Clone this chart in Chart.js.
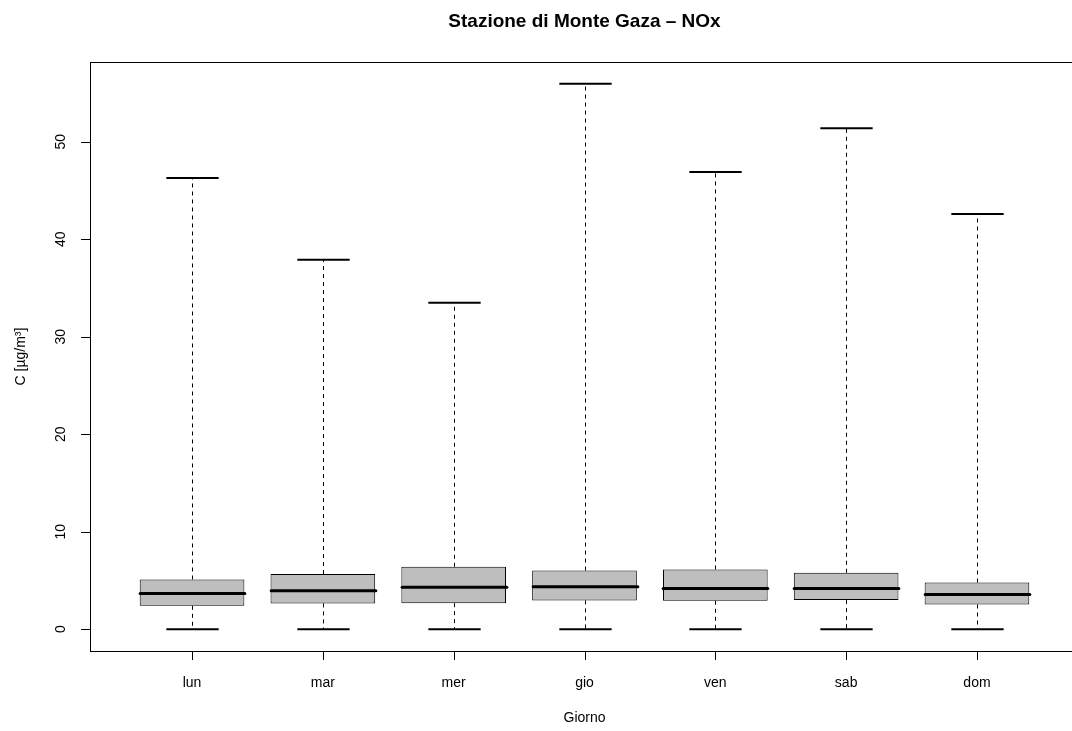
<!DOCTYPE html>
<html>
<head>
<meta charset="utf-8">
<script src="https://cdn.jsdelivr.net/npm/chart.js@4"></script>
<style>
  html, body { margin: 0; padding: 0; background: #fff; overflow: hidden; }
  #wrap { position: absolute; left: 0; top: 0; width: 1080px; height: 731px; }
</style>
</head>
<body>
<div id="wrap"><canvas id="chart"></canvas></div>
<script>
// Box plot data, one entry per day
const days = ['lun', 'mar', 'mer', 'gio', 'ven', 'sab', 'dom'];
const whiskerLow = [0, 0, 0, 0, 0, 0, 0];
const q1 = [2.40, 2.64, 2.67, 2.95, 2.91, 2.98, 2.53];
const median = [3.66, 3.94, 4.31, 4.35, 4.18, 4.18, 3.56];
const q3 = [5.10, 5.65, 6.40, 6.02, 6.13, 5.78, 4.79];
const whiskerHigh = [46.3, 37.9, 33.5, 55.95, 46.9, 51.4, 42.6];
const yTicks = [0, 10, 20, 30, 40, 50];

const FONT = "'Liberation Sans', Arial, Helvetica, sans-serif";

const boxData = days.map((d, i) => ({ x: i + 1, y: [q1[i], q3[i]] }));

// whiskers, staples, medians, axes and labels
const boxplotExtras = {
    id: 'boxplotExtras',
    afterDatasetsDraw(chart) {
        const ctx = chart.ctx;
        const xs = chart.scales.x, ys = chart.scales.y;
        const unit = xs.getPixelForValue(2) - xs.getPixelForValue(1);
        ctx.save();
        ctx.strokeStyle = '#000';
        days.forEach((d, i) => {
            const cx = Math.round(xs.getPixelForValue(i + 1)) + 0.5;
            // dashed whiskers
            ctx.lineWidth = 1;
            ctx.setLineDash([4, 4]);
            ctx.beginPath();
            ctx.moveTo(cx, ys.getPixelForValue(q3[i]));
            ctx.lineTo(cx, ys.getPixelForValue(whiskerHigh[i]));
            ctx.moveTo(cx, ys.getPixelForValue(q1[i]));
            ctx.lineTo(cx, ys.getPixelForValue(whiskerLow[i]));
            ctx.stroke();
            ctx.setLineDash([]);
            // staples
            ctx.lineWidth = 2;
            const half = unit * 0.2;
            [whiskerHigh[i], whiskerLow[i]].forEach(v => {
                const y = ys.getPixelForValue(v);
                ctx.beginPath();
                ctx.moveTo(cx - half, y);
                ctx.lineTo(cx + half, y);
                ctx.stroke();
            });
            // median
            ctx.lineWidth = 3;
            ctx.lineCap = 'round';
            const bh = unit * 0.4;
            const my = ys.getPixelForValue(median[i]);
            ctx.beginPath();
            ctx.moveTo(cx - bh, my);
            ctx.lineTo(cx + bh, my);
            ctx.stroke();
            ctx.lineCap = 'butt';
        });
        ctx.restore();
    },
    afterDraw(chart) {
        const ctx = chart.ctx;
        const xs = chart.scales.x, ys = chart.scales.y;
        const a = chart.chartArea;
        ctx.save();
        ctx.strokeStyle = '#000';
        ctx.lineWidth = 1;
        // plot box
        ctx.strokeRect(a.left + 0.5, a.top + 0.5, a.right - a.left, a.bottom - a.top);

        ctx.fillStyle = '#000';
        ctx.font = '14px ' + FONT;
        // y axis ticks + labels
        ctx.beginPath();
        yTicks.forEach(v => {
            const y = Math.round(ys.getPixelForValue(v)) + 0.5;
            ctx.moveTo(a.left, y);
            ctx.lineTo(a.left - 9, y);
        });
        ctx.stroke();
        yTicks.forEach(v => {
            const y = ys.getPixelForValue(v);
            ctx.save();
            ctx.translate(61, y);
            ctx.rotate(-Math.PI / 2);
            ctx.textAlign = 'center';
            ctx.textBaseline = 'middle';
            ctx.fillText(String(v), 0, 0);
            ctx.restore();
        });
        // x axis ticks + labels
        ctx.beginPath();
        days.forEach((d, i) => {
            const x = Math.round(xs.getPixelForValue(i + 1)) + 0.5;
            ctx.moveTo(x, a.bottom);
            ctx.lineTo(x, a.bottom + 9);
        });
        ctx.stroke();
        ctx.textAlign = 'center';
        ctx.textBaseline = 'middle';
        days.forEach((d, i) => {
            ctx.fillText(d, xs.getPixelForValue(i + 1), 683);
        });
        // axis titles
        const midX = (xs.getPixelForValue(1) + xs.getPixelForValue(7)) / 2;
        ctx.fillText('Giorno', midX, 718);
        ctx.save();
        ctx.translate(21, (a.top + a.bottom) / 2);
        ctx.rotate(-Math.PI / 2);
        ctx.fillText('C [µg/m³]', 0, 0);
        ctx.restore();
        // main title
        ctx.font = 'bold 19px ' + FONT;
        ctx.fillText('Stazione di Monte Gaza – NOx', midX, 22);
        ctx.restore();
    }
};

new Chart(document.getElementById('chart'), {
    type: 'bar',
    data: {
        datasets: [{
            data: boxData,
            backgroundColor: '#bebebe',
            borderColor: '#000',
            borderWidth: 1,
            borderSkipped: false,
            barPercentage: 0.8,
            categoryPercentage: 1.0
        }]
    },
    options: {
        responsive: true,
        maintainAspectRatio: false,
        devicePixelRatio: 1,
        animation: false,
        layout: { padding: { left: 90, top: 62, right: 1, bottom: 80 } },
        plugins: {
            legend: { display: false },
            tooltip: { enabled: false },
            title: { display: false }
        },
        scales: {
            x: {
                type: 'linear', min: 0.22, max: 7.78, offset: false, display: false,
                // ticks only at the day positions so bar width uses the day spacing
                afterBuildTicks: s => { s.ticks = days.map((d, i) => ({ value: i + 1 })); }
            },
            y: { min: -2.24, max: 58.19, display: false }
        }
    },
    plugins: [boxplotExtras]
});
</script>
</body>
</html>
